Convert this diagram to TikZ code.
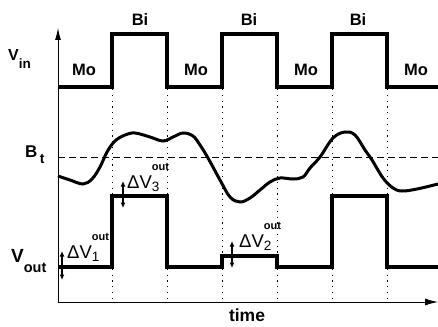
\documentclass[tikz,border=0pt]{standalone}
\usepackage{fontspec}
\setmainfont{Liberation Sans}
\usetikzlibrary{arrows.meta}
\newcommand{\dvlab}[1]{{\fontsize{18.5}{18.5}\selectfont ΔV}\rlap{\raisebox{-3pt}{\fontsize{13.5}{13.5}\selectfont #1}}\raisebox{18pt}{\fontsize{11}{11}\selectfont\bfseries out}}
\begin{document}
\begin{tikzpicture}[x=1pt,y=-1pt,
  sig/.style={line width=3.2pt, line join=miter},
  bcurve/.style={line width=3pt},
  axis/.style={line width=0.9pt},
  guide/.style={line width=1pt, dash pattern=on 1.2pt off 4.6pt},
  thr/.style={line width=0.9pt, dash pattern=on 7pt off 4pt},
  lab/.style={inner sep=0pt, anchor=base, font=\fontsize{16.5}{16.5}\selectfont\bfseries},
  sidelab/.style={inner sep=0pt, anchor=base west},
  dvarrow/.style={line width=1.3pt, {Latex[length=5.5pt,width=5pt]}-{Latex[length=5.5pt,width=5pt]}}]
\useasboundingbox (0,0) rectangle (438,326);
% axes
\coordinate (O) at (58,302);
\coordinate (ytop) at (58,28);
\coordinate (xend) at (438,302);
\draw[axis,-{Latex[length=12pt,width=6pt]}] (O) -- (ytop);
\draw[axis,-{Latex[length=13pt,width=7pt]}] (O) -- (xend);
% guides
\foreach \x in {112,167,222,277,332,387} \draw[guide] (\x,89) -- (\x,302);
% threshold
\coordinate (t0) at (58,157);
\coordinate (t1) at (438,157);
\draw[thr] (t0) -- (t1);
% Vin
\draw[sig] (58,87) -- (112,87) -- (112,34) -- (167,34) -- (167,87) -- (222,87) -- (222,34) -- (277,34) -- (277,87) -- (332,87) -- (332,34) -- (387,34) -- (387,87) -- (438,87);
% Vout
\draw[sig] (58,267) -- (112,267) -- (112,196) -- (167,196) -- (167,267) -- (222,267) -- (222,256) -- (277,256) -- (277,267) -- (332,267) -- (332,196) -- (387,196) -- (387,267) -- (438,267);
% B curve
\draw[bcurve] plot[smooth, tension=0.6] coordinates {(58,176) (70,180) (83,184) (92,179) (100,167) (107,152) (115,141) (125,135) (135,133) (150,137) (163,141) (173,137) (183,133) (193,136) (200,145) (208,158) (220,180) (230,197) (240,202) (250,198) (260,190) (270,182) (280,178) (293,179) (303,177) (310,168) (320,157) (333,138) (345,132) (355,135) (365,150) (372,160) (383,178) (393,188) (402,191) (417,189) (438,184)};
% labels
\node[lab] (bi1) at (140,26) {Bi};
\node[lab] (bi2) at (249,26) {Bi};
\node[lab] (bi3) at (358,26) {Bi};
\node[lab] (mo1) at (84,76) {Mo};
\node[lab] (mo2) at (196,76) {Mo};
\node[lab] (mo3) at (306,76) {Mo};
\node[lab] (mo4) at (416,76) {Mo};
\node[sidelab] (vin) at (8,61) {\fontsize{16}{16}\selectfont\bfseries V\raisebox{-8pt}{\fontsize{13.5}{13.5}\selectfont in}};
\node[sidelab] (vout) at (11,262) {\fontsize{19}{19}\selectfont\bfseries V\raisebox{-10pt}{\fontsize{14.5}{14.5}\selectfont out}};
\node[sidelab] (bt) at (25,157) {\fontsize{17}{17}\selectfont\bfseries B\hspace{2.5pt}\raisebox{-6pt}{\fontsize{14}{14}\selectfont t}};
\node[inner sep=0pt, anchor=base, font=\fontsize{17.5}{17.5}\selectfont\bfseries] (time) at (247,321) {time};
% delta V labels
\node[sidelab] (dv1) at (67,258) {\dvlab{1}};
\node[sidelab] (dv3) at (127,188) {\dvlab{3}};
\node[sidelab] (dv2) at (239,247) {\dvlab{2}};
\coordinate (a1t) at (62,251); \coordinate (a1b) at (62,280);
\coordinate (a3t) at (123,181); \coordinate (a3b) at (123,208);
\coordinate (a2t) at (232,241); \coordinate (a2b) at (232,268);
\draw[dvarrow] (a1t) -- (a1b);
\draw[dvarrow] (a3t) -- (a3b);
\draw[dvarrow] (a2t) -- (a2b);
\end{tikzpicture}
\end{document}
